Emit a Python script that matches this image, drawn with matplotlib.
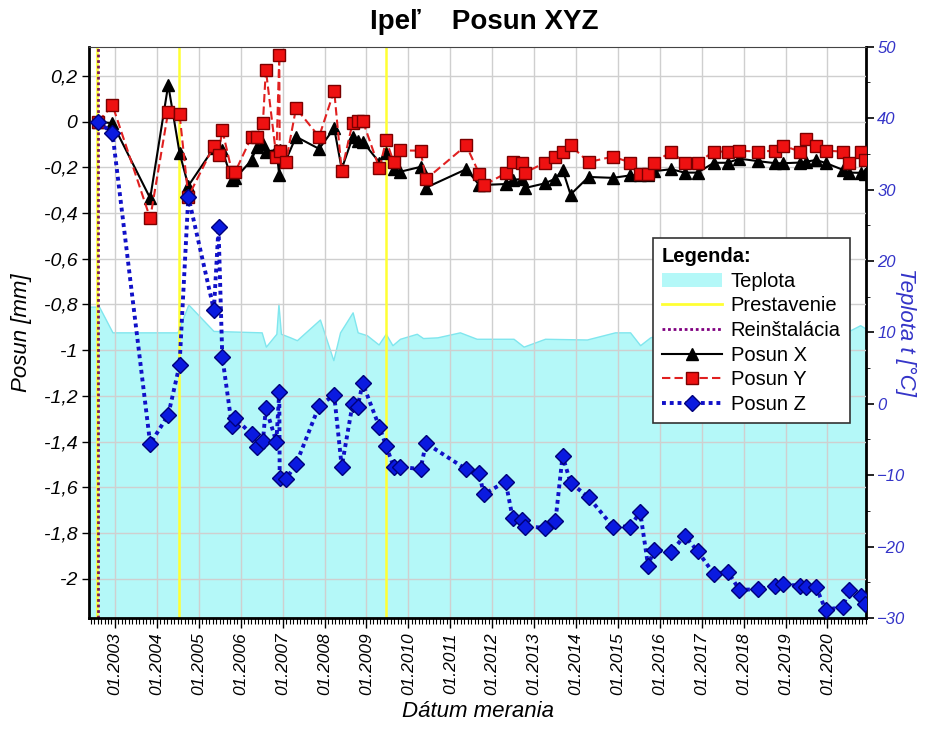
import numpy as np
import matplotlib.pyplot as plt
from matplotlib.patches import Patch
from matplotlib.lines import Line2D
from matplotlib.ticker import FuncFormatter, MultipleLocator

plt.rcParams['font.family'] = ['Liberation Sans', 'DejaVu Sans']

# dates of measurement (decimal years)
datum = [2002.60, 2002.94, 2003.84, 2004.27, 2004.54, 2004.75, 2005.36, 2005.47, 2005.56,
         2005.79, 2005.87, 2006.26, 2006.38, 2006.53, 2006.60, 2006.85, 2006.92, 2006.93,
         2007.08, 2007.32, 2007.87, 2008.23, 2008.41, 2008.67, 2008.79, 2008.91, 2009.31,
         2009.47, 2009.65, 2009.81, 2010.29, 2010.42, 2011.38, 2011.69, 2011.80, 2012.32,
         2012.49, 2012.70, 2012.79, 2013.26, 2013.51, 2013.68, 2013.87, 2014.30, 2014.88,
         2015.30, 2015.53, 2015.72, 2015.86, 2016.27, 2016.59, 2016.90, 2017.29, 2017.62,
         2017.90, 2018.35, 2018.76, 2018.94, 2019.35, 2019.49, 2019.73, 2019.96, 2020.37,
         2020.51, 2020.81, 2020.90]

posun_x = [0, -0.007, -0.335, 0.161, -0.136, -0.281, -0.115, -0.138, -0.124, -0.255, -0.248,
           -0.168, -0.111, -0.098, -0.131, -0.124, -0.233, -0.124, -0.168, -0.066, -0.119,
           -0.029, -0.207, -0.069, -0.084, -0.087, -0.179, -0.138, -0.207, -0.219, -0.198,
           -0.289, -0.208, -0.277, -0.277, -0.273, -0.255, -0.251, -0.290, -0.270, -0.249,
           -0.210, -0.319, -0.242, -0.246, -0.235, -0.233, -0.233, -0.217, -0.208, -0.223,
           -0.223, -0.180, -0.180, -0.162, -0.173, -0.182, -0.182, -0.179, -0.175, -0.168,
           -0.181, -0.211, -0.223, -0.224, -0.230]

posun_y = [0, 0.072, -0.423, 0.044, 0.034, -0.328, -0.105, -0.146, -0.036, -0.219, -0.219,
           -0.066, -0.066, -0.004, 0.228, -0.154, 0.292, -0.127, -0.175, 0.059, -0.066,
           0.136, -0.216, -0.004, 0.004, 0.004, -0.205, -0.081, -0.177, -0.126, -0.127,
           -0.252, -0.104, -0.227, -0.279, -0.226, -0.176, -0.179, -0.223, -0.179, -0.153,
           -0.131, -0.104, -0.177, -0.153, -0.179, -0.231, -0.231, -0.181, -0.131, -0.179,
           -0.179, -0.131, -0.131, -0.127, -0.131, -0.127, -0.105, -0.131, -0.077, -0.105,
           -0.127, -0.131, -0.181, -0.131, -0.170]

posun_z = [0, -0.051, -1.410, -1.284, -1.065, -0.328, -0.824, -0.462, -1.028, -1.332, -1.298,
           -1.368, -1.422, -1.396, -1.254, -1.400, -1.182, -1.561, -1.564, -1.499, -1.244,
           -1.196, -1.510, -1.235, -1.247, -1.145, -1.337, -1.419, -1.510, -1.510, -1.521,
           -1.407, -1.521, -1.539, -1.631, -1.575, -1.736, -1.743, -1.772, -1.777, -1.747,
           -1.462, -1.580, -1.644, -1.772, -1.772, -1.707, -1.943, -1.874, -1.884, -1.812,
           -1.879, -1.979, -1.969, -2.049, -2.046, -2.032, -2.023, -2.032, -2.035, -2.038,
           -2.137, -2.122, -2.049, -2.076, -2.110]

# temperature
teplota_datum = [2002.38, 2002.62, 2002.94, 2004.49, 2004.75, 2005.35, 2006.50, 2006.60, 2006.85,
                 2006.90, 2006.96, 2007.18, 2007.34, 2007.89, 2008.21, 2008.37, 2008.67, 2008.79,
                 2009.01, 2009.29, 2009.46, 2009.62, 2009.80, 2010.20, 2010.35, 2010.69, 2011.23,
                 2011.63, 2012.51, 2012.75, 2013.26, 2014.26, 2014.93, 2015.29, 2015.41, 2015.53,
                 2015.77, 2016.09, 2020.38, 2020.78, 2020.92]
teplota = [13.6, 13.6, 10.0, 10.0, 13.9, 10.2, 10.0, 8.0, 9.8, 14.0, 9.8, 9.3, 8.9, 11.8, 6.1,
           10.0, 12.8, 10.0, 9.6, 8.3, 9.8, 8.2, 9.1, 9.8, 9.2, 9.3, 10.0, 9.1, 9.1, 8.0, 9.1,
           9.0, 10.0, 10.0, 9.1, 8.2, 9.3, 9.8, 9.8, 11.0, 10.5]

prestavenie = [2002.57, 2004.53, 2009.46]
reinstalacia = [2002.59]

blue = '#3434c8'

fig = plt.figure(figsize=(9.31, 7.33), dpi=100)
ax = fig.add_axes([0.0956, 0.1569, 0.8346, 0.7794])
ax2 = ax.twinx()
ax.set_zorder(ax2.get_zorder() + 1)
ax.patch.set_visible(False)

ax2.fill_between(teplota_datum, teplota, -30, facecolor='#b4f8f8', edgecolor='#80e6ee', lw=1)
ax2.set_ylim(-30, 50)
ax2.yaxis.set_major_locator(MultipleLocator(10))
ax2.yaxis.set_minor_locator(MultipleLocator(5))
ax2.tick_params(axis='y', which='major', length=6, width=1.2, pad=2, labelsize=12, labelcolor=blue)
ax2.tick_params(axis='y', which='minor', length=3)
for lbl in ax2.get_yticklabels():
    lbl.set_fontstyle('italic')
ax2.set_ylabel('Teplota t [°C]', rotation=270, color=blue, fontsize=16,
               fontstyle='italic', labelpad=8)
for s in ['left', 'top', 'bottom']:
    ax2.spines[s].set_visible(False)
ax2.spines['right'].set_linewidth(2)

ax.set_xlim(2002.38, 2020.92)
ax.set_ylim(-2.172, 0.328)
ax.yaxis.set_major_locator(MultipleLocator(0.2))
ax.xaxis.set_major_locator(MultipleLocator(1))
ax.xaxis.set_minor_locator(MultipleLocator(1 / 12))
ax.grid(True, which='major', color='#cfcfcf', lw=1)
ax.set_axisbelow(True)

def fmt_mm(v, pos):
    s = f"{round(v, 2):g}".replace('.', ',')
    return '0' if s == '-0' else s

ax.yaxis.set_major_formatter(FuncFormatter(fmt_mm))
ax.xaxis.set_major_formatter(FuncFormatter(lambda v, p: f"01.{int(round(v))}"))
ax.tick_params(axis='y', length=5, width=1, labelsize=14)
ax.tick_params(axis='x', which='major', length=7, width=1, labelsize=12.5, labelrotation=90)
ax.tick_params(axis='x', which='minor', length=4, width=0.8)
for lbl in ax.get_yticklabels() + ax.get_xticklabels():
    lbl.set_fontstyle('italic')

ax.spines['left'].set_linewidth(2)
ax.spines['bottom'].set_linewidth(2)
ax.spines['top'].set_color('#444444')
ax.spines['right'].set_visible(False)

for d in prestavenie:
    ax.axvline(d, color='#ffff33', lw=1.8, zorder=2)
for d in reinstalacia:
    ax.axvline(d, color='#7a1a5a', lw=2, ls=(0, (1, 1)), zorder=2)

line_x, = ax.plot(datum, posun_x, color='black', lw=1.5, marker='^', ms=8,
                  mfc='black', mec='black', zorder=3)
line_y, = ax.plot(datum, posun_y, color='#e02020', lw=1.5, ls=(0, (4, 2)), marker='s', ms=9,
                  mfc='#ee1111', mec='#7a0000', mew=1, zorder=4)
line_z, = ax.plot(datum, posun_z, color='#1010c8', lw=2.8, ls=(0, (1, 1)), marker='D', ms=8.5,
                  mfc='#0a1ae0', mec='#00007a', mew=1, zorder=5)

ax.set_xlabel('Dátum merania', fontsize=16, fontstyle='italic', labelpad=4)
ax.set_ylabel('Posun [mm]', fontsize=16, fontstyle='italic', labelpad=8)

fig.text(484 / 931, 1 - 22 / 733, 'Ipeľ    Posun XYZ', ha='center', va='center',
         fontsize=20, fontweight='bold')

handles = [Patch(facecolor='#b4f8f8', edgecolor='none'),
           Line2D([], [], color='#ffff33', lw=2),
           Line2D([], [], color='#800080', lw=2, ls=(0, (1, 1))),
           line_x, line_y, line_z]
labels = ['Teplota', 'Prestavenie', 'Reinštalácia', 'Posun X', 'Posun Y', 'Posun Z']
leg = ax.legend(handles, labels, title='Legenda:', loc='upper left',
                bbox_to_anchor=(653 / 931, 1 - 238 / 733), bbox_transform=fig.transFigure,
                fancybox=False, edgecolor='#333333', framealpha=1, fontsize=14.5,
                title_fontproperties={'weight': 'bold', 'size': 14.5}, alignment='left',
                handlelength=3.0, handletextpad=0.4, labelspacing=0.28, borderaxespad=0,
                borderpad=0.45)
leg.get_frame().set_linewidth(1.2)
leg.set_zorder(10)

fig.savefig('out.png', dpi=100)
